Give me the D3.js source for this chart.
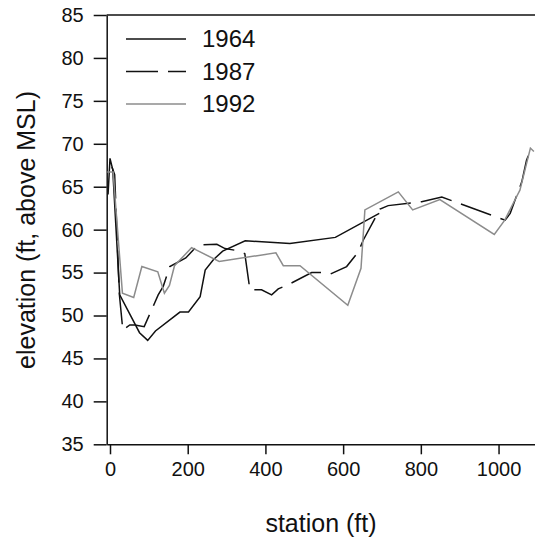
<!DOCTYPE html>
<html>
<head>
<meta charset="utf-8">
<script src="https://cdn.jsdelivr.net/npm/d3@7"></script>
<style>
  body { margin: 0; background: #fff; }
  svg { font-family: "Liberation Sans", Arial, sans-serif; }
</style>
</head>
<body>
<svg id="chart"></svg>
<script>
// station (ft) / elevation (ft, above MSL)
const s1964 = [-5, 0, 7, 25, 76, 97, 117, 180, 202, 232, 245, 266, 290, 348, 463, 580, 693];
const e1964 = [64.1, 68.3, 67.0, 52.4, 48.0, 47.1, 48.2, 50.4, 50.4, 52.2, 55.3, 56.5, 57.5, 58.7, 58.4, 59.1, 61.9];

const s1987 = [5, 12, 24, 33, 51, 64, 88, 124, 137, 154, 195, 226, 275, 296, 322, 347, 356, 360, 390, 416, 433, 459, 519, 545, 566, 609, 639, 652, 695, 716, 802, 854, 1017, 1030, 1060, 1072, 1083];
const e1987 = [67.3, 66.4, 52.5, 48.3, 48.9, 48.9, 48.7, 52.4, 53.4, 55.7, 56.7, 58.2, 58.3, 57.8, 57.6, 57.2, 54.3, 53.0, 53.0, 52.4, 53.1, 53.6, 55.0, 55.0, 54.8, 55.7, 57.4, 58.8, 62.4, 62.8, 63.25, 63.8, 61.1, 61.9, 65.6, 68.1, 69.3];

const s1992 = [-7, 8, 32, 61, 82, 123, 140, 153, 166, 210, 281, 427, 446, 489, 612, 646, 656, 742, 779, 849, 989, 1016, 1042, 1055, 1082, 1091];
const e1992 = [66.7, 66.7, 52.6, 52.1, 55.7, 55.1, 52.6, 53.5, 55.8, 57.9, 56.3, 57.3, 55.8, 55.8, 51.2, 55.5, 62.3, 64.4, 62.3, 63.5, 59.45, 61.1, 63.45, 64.6, 69.5, 69.1];

const years = ['1964', '1987', '1992'];
const xTicks = [0, 200, 400, 600, 800, 1000];
const yTicks = [35, 40, 45, 50, 55, 60, 65, 70, 75, 80, 85];

const width = 535, height = 547;
const padL = 106.7, padT = 15, padB = 444.3, padR = 537.4;

const svg = d3.select('#chart')
  .attr('width', width)
  .attr('height', height);

const x = d3.scaleLinear().domain([-8.5, 1100]).range([padL, padR]);
const y = d3.scaleLinear().domain([35, 85]).range([padB, padT]);

// axes
const yAxis = svg.append('g')
  .attr('transform', 'translate(' + padL + ',0)')
  .call(d3.axisLeft(y).tickValues(yTicks).tickSize(13).tickSizeOuter(0).tickPadding(10));

const xAxis = svg.append('g')
  .attr('transform', 'translate(0,' + padB + ')')
  .call(d3.axisBottom(x).tickValues(xTicks).tickFormat(d3.format('d'))
    .tickSize(10).tickSizeOuter(0).tickPadding(8));

[yAxis, xAxis].forEach(g => {
  g.selectAll('path, line').attr('stroke', '#111').attr('stroke-width', 1.5);
  g.selectAll('text').attr('fill', '#111').style('font-size', '20px');
});

svg.append('line')
  .attr('x1', padL).attr('x2', padR)
  .attr('y1', padT).attr('y2', padT)
  .attr('stroke', '#111').attr('stroke-width', 1.5);

// axis titles
svg.append('text')
  .attr('x', 321)
  .attr('y', 532)
  .attr('text-anchor', 'middle')
  .style('font-size', '25px')
  .attr('fill', '#111')
  .text('station (ft)');

svg.append('text')
  .attr('transform', 'translate(35,230) rotate(-90)')
  .attr('text-anchor', 'middle')
  .style('font-size', '25px')
  .attr('fill', '#111')
  .text('elevation (ft, above MSL)');

// profiles
const styles = {
  '1964': { color: '#111', dash: null },
  '1987': { color: '#111', dash: '32,10' },
  '1992': { color: '#8c8c8c', dash: null }
};
const series = [
  { year: '1964', pts: d3.zip(s1964, e1964) },
  { year: '1987', pts: d3.zip(s1987, e1987) },
  { year: '1992', pts: d3.zip(s1992, e1992) }
];

svg.append('clipPath').attr('id', 'clip')
  .append('rect')
  .attr('x', padL).attr('y', padT)
  .attr('width', padR - padL).attr('height', padB - padT);

const line = d3.line().x(d => x(d[0])).y(d => y(d[1]));

svg.append('g')
  .attr('clip-path', 'url(#clip)')
  .selectAll('path')
  .data(series)
  .enter()
  .append('path')
  .attr('d', d => line(d.pts))
  .attr('fill', 'none')
  .attr('stroke', d => styles[d.year].color)
  .attr('stroke-width', 1.5)
  .attr('stroke-dasharray', d => styles[d.year].dash);

// legend
const legend = svg.append('g')
  .selectAll('g')
  .data(years)
  .enter()
  .append('g')
  .attr('transform', (d, i) => 'translate(126,' + (39 + i * 32.5) + ')');

legend.append('line')
  .attr('x1', 0).attr('x2', 60)
  .attr('stroke', d => styles[d].color)
  .attr('stroke-width', 1.5)
  .attr('stroke-dasharray', d => styles[d].dash);

legend.append('text')
  .attr('x', 76)
  .attr('dy', '0.35em')
  .style('font-size', '24px')
  .attr('fill', '#111')
  .text(d => d);
</script>
</body>
</html>
